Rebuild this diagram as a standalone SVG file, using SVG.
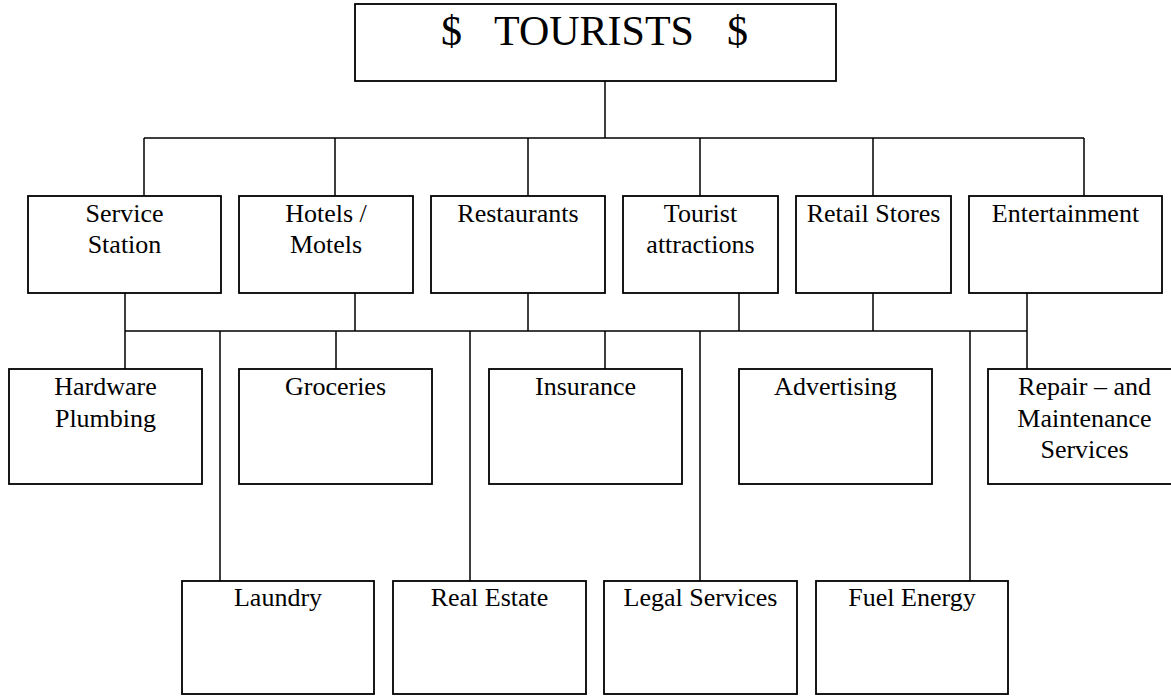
<svg xmlns="http://www.w3.org/2000/svg" width="1171" height="696" viewBox="0 0 1171 696">
<style>
.box{fill:#fff;stroke:#000;stroke-width:1.8}
.ln{stroke:#000;stroke-width:1.5;fill:none}
.t{font-family:"Liberation Serif","Times New Roman",serif;font-size:26px;fill:#000;text-anchor:middle}
.big{font-family:"Liberation Serif","Times New Roman",serif;font-size:42px;fill:#000}
</style>
<rect width="1171" height="696" fill="#fff"/>
<g id="connectors" class="ln">
<path d="M605 81V138M144 138H1084M144 138V196M335 138V196M528 138V196M700 138V196M873 138V196M1084 138V196"/>
<path d="M125 293V331M355 293V331M528 293V331M739 293V331M873 293V331M1027 293V331M125 331H1027"/>
<path d="M125 331V369M336 331V369M605 331V369M1027 331V369"/>
<path d="M220 331V581M470 331V581M700 331V581M970 331V581"/>
</g>
<g id="tourists"><rect class="box" x="355" y="4" width="481" height="77"/><text class="big" y="45"><tspan x="441">$</tspan><tspan x="494">TOURISTS</tspan><tspan x="727">$</tspan></text></g>
<g id="service-station"><rect class="box" x="28" y="196" width="193" height="97"/><text class="t" x="124.5" y="222">Service</text><text class="t" x="124.5" y="253">Station</text></g>
<g id="hotels-motels"><rect class="box" x="239" y="196" width="174" height="97"/><text class="t" x="326" y="222">Hotels /</text><text class="t" x="326" y="253">Motels</text></g>
<g id="restaurants"><rect class="box" x="431" y="196" width="174" height="97"/><text class="t" x="518" y="222">Restaurants</text></g>
<g id="tourist-attractions"><rect class="box" x="623" y="196" width="155" height="97"/><text class="t" x="700.5" y="222">Tourist</text><text class="t" x="700.5" y="253">attractions</text></g>
<g id="retail-stores"><rect class="box" x="796" y="196" width="155" height="97"/><text class="t" x="873.5" y="222">Retail Stores</text></g>
<g id="entertainment"><rect class="box" x="969" y="196" width="193" height="97"/><text class="t" x="1065.5" y="222">Entertainment</text></g>
<g id="hardware-plumbing"><rect class="box" x="9" y="369" width="193" height="115"/><text class="t" x="105.5" y="395">Hardware</text><text class="t" x="105.5" y="427">Plumbing</text></g>
<g id="groceries"><rect class="box" x="239" y="369" width="193" height="115"/><text class="t" x="335.5" y="395">Groceries</text></g>
<g id="insurance"><rect class="box" x="489" y="369" width="193" height="115"/><text class="t" x="585.5" y="395">Insurance</text></g>
<g id="advertising"><rect class="box" x="739" y="369" width="193" height="115"/><text class="t" x="835.5" y="395">Advertising</text></g>
<g id="repair-maintenance"><rect class="box" x="988" y="369" width="193" height="115"/><text class="t" x="1084.5" y="395">Repair – and</text><text class="t" x="1084.5" y="427">Maintenance</text><text class="t" x="1084.5" y="458">Services</text></g>
<g id="laundry"><rect class="box" x="182" y="581" width="192" height="113"/><text class="t" x="278" y="606">Laundry</text></g>
<g id="real-estate"><rect class="box" x="393" y="581" width="193" height="113"/><text class="t" x="489.5" y="606">Real Estate</text></g>
<g id="legal-services"><rect class="box" x="604" y="581" width="193" height="113"/><text class="t" x="700.5" y="606">Legal Services</text></g>
<g id="fuel-energy"><rect class="box" x="816" y="581" width="192" height="113"/><text class="t" x="912" y="606">Fuel Energy</text></g>
</svg>
